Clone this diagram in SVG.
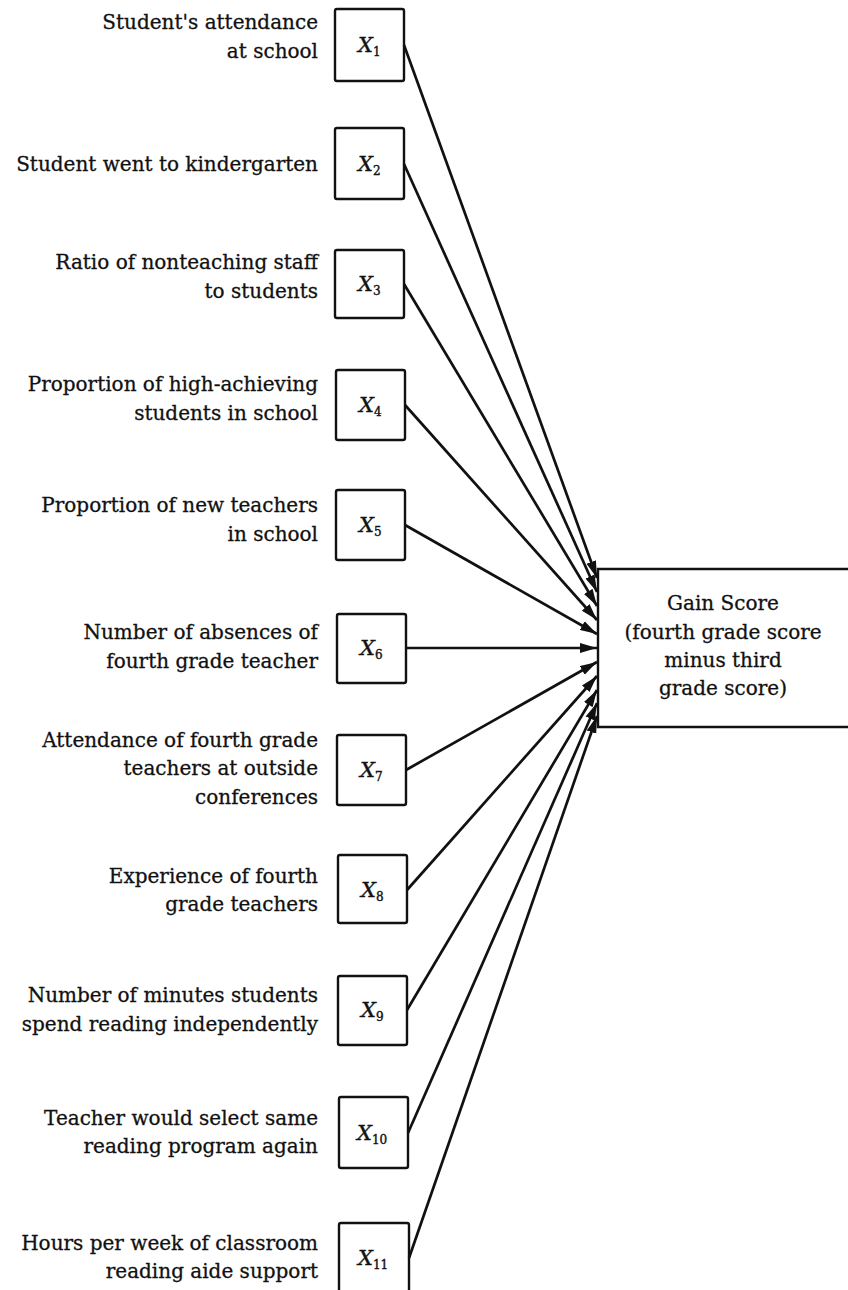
<svg xmlns="http://www.w3.org/2000/svg" width="848" height="1290" viewBox="0 0 848 1290">
<style>
.lbl{font-family:"DejaVu Serif","Liberation Serif",serif;font-size:20px;fill:#111;stroke:#111;stroke-width:0.3;text-anchor:end}
.gt{font-family:"DejaVu Serif","Liberation Serif",serif;font-size:20px;fill:#111;stroke:#111;stroke-width:0.3;text-anchor:middle}
.box{fill:#fff;stroke:#111;stroke-width:2.4}
.var{font-family:"DejaVu Serif","Liberation Serif",serif;font-style:italic;font-size:21px;fill:#111;stroke:#111;stroke-width:0.4}
.sub{font-size:12px;font-style:normal}
.arr{stroke:#111;stroke-width:2.7;fill:none;marker-end:url(#ah)}
</style>
<defs>
<marker id="ah" markerUnits="userSpaceOnUse" markerWidth="18" markerHeight="11" refX="17" refY="5" orient="auto" viewBox="0 0 18 10">
<path d="M0,0 L17,5 L0,10 z" fill="#111"/>
</marker>
</defs>
<rect width="848" height="1290" fill="#fff"/>
<g id="gain">
<path class="box" d="M852,569 L598,569 L598,727 L852,727"/>
<text class="gt" x="723" y="610">Gain Score</text>
<text class="gt" x="723" y="639">(fourth grade score</text>
<text class="gt" x="723" y="667">minus third</text>
<text class="gt" x="723" y="695">grade score)</text>
</g>
<g id="x1">
<rect class="box" x="335" y="9" width="69" height="72" rx="2"/>
<text class="var" x="358" y="52">X<tspan class="sub" dy="4">1</tspan></text>
<text class="lbl" x="318" y="29">Student's attendance</text>
<text class="lbl" x="318" y="58">at school</text>
</g>
<g id="x2">
<rect class="box" x="335" y="128" width="69" height="71" rx="2"/>
<text class="var" x="358" y="171">X<tspan class="sub" dy="4">2</tspan></text>
<text class="lbl" x="318" y="171">Student went to kindergarten</text>
</g>
<g id="x3">
<rect class="box" x="335" y="250" width="69" height="68" rx="2"/>
<text class="var" x="358" y="291">X<tspan class="sub" dy="4">3</tspan></text>
<text class="lbl" x="318" y="269">Ratio of nonteaching staff</text>
<text class="lbl" x="318" y="298">to students</text>
</g>
<g id="x4">
<rect class="box" x="336" y="370" width="69" height="70" rx="2"/>
<text class="var" x="359" y="412">X<tspan class="sub" dy="4">4</tspan></text>
<text class="lbl" x="318" y="391">Proportion of high-achieving</text>
<text class="lbl" x="318" y="420">students in school</text>
</g>
<g id="x5">
<rect class="box" x="336" y="490" width="69" height="70" rx="2"/>
<text class="var" x="359" y="532">X<tspan class="sub" dy="4">5</tspan></text>
<text class="lbl" x="318" y="512">Proportion of new teachers</text>
<text class="lbl" x="318" y="541">in school</text>
</g>
<g id="x6">
<rect class="box" x="337" y="614" width="69" height="69" rx="2"/>
<text class="var" x="360" y="655">X<tspan class="sub" dy="4">6</tspan></text>
<text class="lbl" x="318" y="639">Number of absences of</text>
<text class="lbl" x="318" y="668">fourth grade teacher</text>
</g>
<g id="x7">
<rect class="box" x="337" y="735" width="69" height="70" rx="2"/>
<text class="var" x="360" y="777">X<tspan class="sub" dy="4">7</tspan></text>
<text class="lbl" x="318" y="747">Attendance of fourth grade</text>
<text class="lbl" x="318" y="775">teachers at outside</text>
<text class="lbl" x="318" y="804">conferences</text>
</g>
<g id="x8">
<rect class="box" x="338" y="855" width="69" height="68" rx="2"/>
<text class="var" x="361" y="897">X<tspan class="sub" dy="4">8</tspan></text>
<text class="lbl" x="318" y="883">Experience of fourth</text>
<text class="lbl" x="318" y="911">grade teachers</text>
</g>
<g id="x9">
<rect class="box" x="338" y="976" width="69" height="69" rx="2"/>
<text class="var" x="361" y="1017">X<tspan class="sub" dy="4">9</tspan></text>
<text class="lbl" x="318" y="1002">Number of minutes students</text>
<text class="lbl" x="318" y="1031">spend reading independently</text>
</g>
<g id="x10">
<rect class="box" x="339" y="1097" width="69" height="71" rx="2"/>
<text class="var" x="357" y="1140">X<tspan class="sub" dy="4">10</tspan></text>
<text class="lbl" x="318" y="1125">Teacher would select same</text>
<text class="lbl" x="318" y="1153">reading program again</text>
</g>
<g id="x11">
<rect class="box" x="339" y="1223" width="70" height="72" rx="2"/>
<text class="var" x="358" y="1265">X<tspan class="sub" dy="4">11</tspan></text>
<text class="lbl" x="318" y="1250">Hours per week of classroom</text>
<text class="lbl" x="318" y="1278">reading aide support</text>
</g>
<g id="connectors">
<line class="arr" x1="404" y1="45" x2="597" y2="578"/>
<line class="arr" x1="404" y1="164" x2="597" y2="592"/>
<line class="arr" x1="404" y1="284" x2="597" y2="606"/>
<line class="arr" x1="405" y1="405" x2="597" y2="620"/>
<line class="arr" x1="405" y1="525" x2="597" y2="634"/>
<line class="arr" x1="406" y1="648" x2="597" y2="648"/>
<line class="arr" x1="406" y1="770" x2="597" y2="662"/>
<line class="arr" x1="407" y1="890" x2="597" y2="676"/>
<line class="arr" x1="407" y1="1010" x2="597" y2="690"/>
<line class="arr" x1="408" y1="1133" x2="597" y2="703"/>
<line class="arr" x1="409" y1="1258" x2="597" y2="716"/>
</g>
</svg>
